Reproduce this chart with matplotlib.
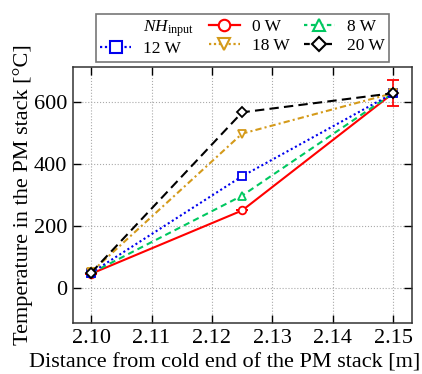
import numpy as np
import matplotlib
matplotlib.use("Agg")
import matplotlib.pyplot as plt
from matplotlib.lines import Line2D

plt.rcParams['font.family'] = ['Liberation Serif', 'DejaVu Serif']
plt.rcParams['mathtext.fontset'] = 'custom'
plt.rcParams['mathtext.rm'] = 'Liberation Serif'
plt.rcParams['mathtext.it'] = 'Liberation Serif:italic'

# distance from cold end [m]
distance = [2.10, 2.125, 2.15]

# temperature readings [degC] per heat input
temp_0w = [45, 250, 630]
temp_8w = [47, 298, 630]
temp_12w = [48, 361, 630]
temp_18w = [50, 499, 630]
temp_20w = [48, 568, 630]
err_0w = [0, 0, 42]

labels = ['0 W', '8 W', '12 W', '18 W', '20 W']
xticks = [2.10, 2.11, 2.12, 2.13, 2.14, 2.15]
yticks = [0, 200, 400, 600]

# color, line style, marker, marker size, legend dash
styles = {
    '0 W': ('#ff0000', '-', 'o', 5.5, '-'),
    '8 W': ('#00c860', (0, (3, 2)), '^', 5.5, (0.5, (2, 1.6))),
    '12 W': ('#0000ee', (0, (1, 1.3)), 's', 5.5, (0, (1, 1.2))),
    '18 W': ('#d49a1a', (0, (3, 1.5, 1, 1.5)), 'v', 5.5, (0, (1, 1.2))),
    '20 W': ('black', (0, (4.5, 2.5)), 'D', 4.8, (0, (2.6, 2.4))),
}


def plot_series(ax, y, label, yerr=None):
    color, ls, marker, ms, lls = styles[label]
    ax.errorbar(distance, y, yerr=yerr, color=color, linestyle=ls,
                marker=marker, markersize=ms, markerfacecolor='white',
                markeredgecolor=color, markeredgewidth=1.3,
                linewidth=1.5, capsize=4, elinewidth=1.2)
    return Line2D([], [], color=color, linestyle=lls, marker=marker,
                  markersize=ms * 1.5, markerfacecolor='white',
                  markeredgecolor=color, markeredgewidth=1.5, linewidth=1.6)


fig = plt.figure(figsize=(4.22, 3.74), dpi=100)
ax = fig.add_axes([0.173, 0.136, 0.803, 0.685])

h0 = plot_series(ax, temp_0w, labels[0], yerr=err_0w)
h8 = plot_series(ax, temp_8w, labels[1])
h12 = plot_series(ax, temp_12w, labels[2])
h18 = plot_series(ax, temp_18w, labels[3])
h20 = plot_series(ax, temp_20w, labels[4])

ax.set_xlim(2.097, 2.1531)
ax.set_ylim(-115, 715)
ax.set_xticks(xticks)
ax.set_xticklabels([f"{t:.2f}" for t in xticks])
ax.set_yticks(yticks)
ax.tick_params(direction='in', top=True, right=True, length=6, width=1,
               labelsize=16)
ax.tick_params(axis='x', pad=4.5)
ax.tick_params(axis='y', pad=4)
ax.grid(True, linestyle=':', color='#aaaaaa', linewidth=0.8)
for s in ax.spines.values():
    s.set_color('#333333')
    s.set_linewidth(1.1)

ax.set_xlabel('Distance from cold end of the PM stack [m]', fontsize=16)
ax.xaxis.set_label_coords(0.447, -0.172)
ax.xaxis.label.set_va('baseline')
ax.set_ylabel('Temperature in the PM stack [°C]', fontsize=16, labelpad=1)

blank = Line2D([], [], color='none')
handles = [blank, h12, h0, h18, h8, h20]
names = [r'$NH_{\rm input}$', '12 W', '0 W', '18 W', '8 W', '20 W']
leg = ax.legend(handles, names, ncol=3, loc='lower center',
                bbox_to_anchor=(0.5, 1.02), borderaxespad=0, fontsize=12.5,
                frameon=True, fancybox=False, edgecolor='#555555',
                handlelength=1.8, handletextpad=0.7, columnspacing=0.8,
                labelspacing=0.15, borderpad=0.25)
leg.get_frame().set_linewidth(1.2)

fig.savefig('out.png', dpi=100)
